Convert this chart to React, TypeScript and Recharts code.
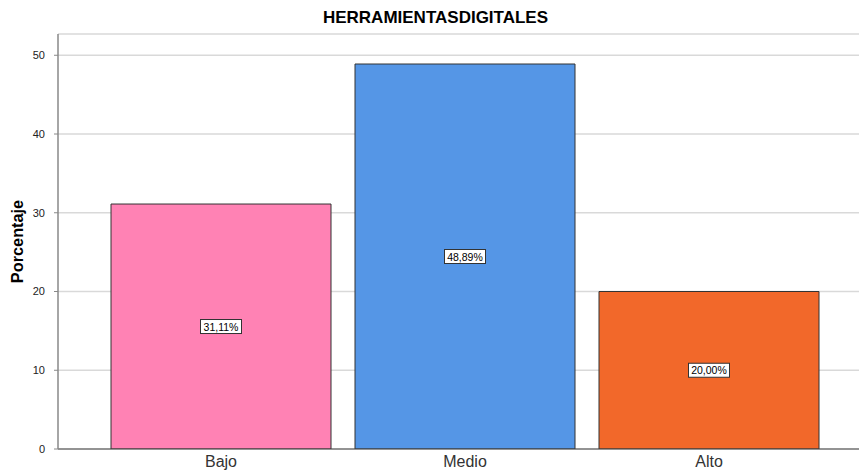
import React from 'react';
import { BarChart, Bar, XAxis, YAxis, CartesianGrid, Cell, LabelList, Label } from 'recharts';

const categories = ['Bajo', 'Medio', 'Alto'];
const percentages = [31.11, 48.89, 20.0];
const labels = ['31,11%', '48,89%', '20,00%'];
const colors = ['#FF82B4', '#5596E6', '#F2682A'];
const yTicks = [0, 10, 20, 30, 40, 50];

const data = categories.map((c, i) => ({ name: c, value: percentages[i], label: labels[i] }));

const BoxLabel = (props: any) => {
  const { x, y, width, height, value } = props;
  const cx = x + width / 2;
  const cy = y + height / 2;
  const w = 41;
  const h = 14;
  return (
    <g>
      <rect x={cx - w / 2} y={cy - h / 2} width={w} height={h} fill="#fff" stroke="#333" strokeWidth={1} />
      <text x={cx} y={cy} textAnchor="middle" dominantBaseline="central" fontSize={10.5} fill="#000" fontFamily="Liberation Sans, Arial, sans-serif">
        {value}
      </text>
    </g>
  );
};

const YLabel = (props: any) => {
  const { viewBox } = props;
  const x = 17;
  const y = viewBox.y + viewBox.height / 2;
  return (
    <text x={x} y={y} transform={`rotate(-90, ${x}, ${y})`} textAnchor="middle" dominantBaseline="central" fontSize={16.3} fontWeight="bold" fill="#000" fontFamily="Liberation Sans, Arial, sans-serif">
      Porcentaje
    </text>
  );
};

export default function App() {
  return (
    <div style={{ position: 'absolute', left: 0, top: 0, width: 859, height: 474, background: '#fff', fontFamily: 'Liberation Sans, Arial, sans-serif' }}>
      <div style={{ position: 'absolute', left: 0, top: 8, width: 871, textAlign: 'center', fontSize: 17, fontWeight: 'bold', color: '#000' }}>
        HERRAMIENTASDIGITALES
      </div>
      <BarChart width={859} height={474} data={data} margin={{ top: 34, right: 0, bottom: 0, left: 0 }} barCategoryGap={12}>
        <CartesianGrid vertical={false} stroke="#d9d9d9" strokeWidth={1.5} />
        <XAxis
          dataKey="name"
          height={25}
          padding={{ left: 41, right: 28 }}
          tickLine={false}
          axisLine={{ stroke: '#444' }}
          tick={{ fontSize: 16, fill: '#333' }}
          tickSize={6}
          tickMargin={1}
        />
        <YAxis
          width={58}
          domain={[0, 52.7]}
          ticks={yTicks}
          allowDataOverflow
          axisLine={{ stroke: '#888', strokeWidth: 1.5 }}
          tickLine={{ stroke: '#888' }}
          tickSize={4}
          tickMargin={9}
          tick={{ fontSize: 11, fill: '#222' }}
        >
          <Label content={<YLabel />} />
        </YAxis>
        <Bar dataKey="value" isAnimationActive={false} stroke="#333" strokeWidth={1}>
          {data.map((d, i) => (
            <Cell key={d.name} fill={colors[i]} />
          ))}
          <LabelList dataKey="label" content={<BoxLabel />} />
        </Bar>
      </BarChart>
    </div>
  );
}
